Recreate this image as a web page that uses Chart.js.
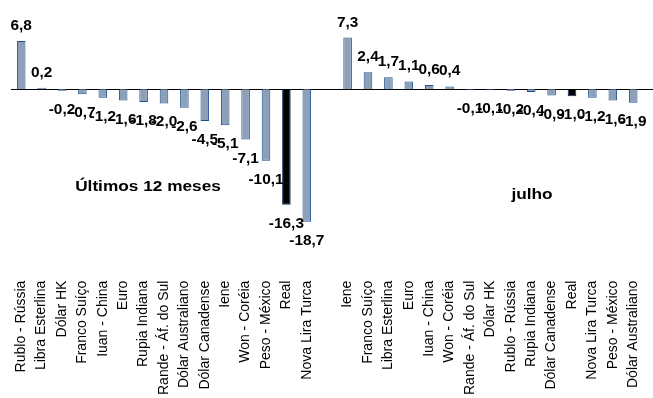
<!DOCTYPE html>
<html>
<head>
<meta charset="utf-8">
<script src="https://cdn.jsdelivr.net/npm/chart.js@4.4.0/dist/chart.umd.min.js"></script>
<style>
  html, body { margin: 0; padding: 0; background: #fff; overflow: hidden; }
  #wrap { width: 653px; height: 398px; position: relative; }
</style>
</head>
<body>
<div id="wrap"><canvas id="grafico"></canvas></div>
<script>
// Variação das moedas frente ao dólar (%)
var moedas12m = ['Rublo - Rússia', 'Libra Esterlina', 'Dólar HK', 'Franco Suíço', 'Iuan - China', 'Euro',
  'Rupia Indiana', 'Rande - Áf. do Sul', 'Dólar Australiano', 'Dólar Canadense', 'Iene', 'Won - Coréia',
  'Peso - México', 'Real', 'Nova Lira Turca'];
var valores12m = [6.8, 0.2, -0.2, -0.7, -1.2, -1.6, -1.8, -2.0, -2.6, -4.5, -5.1, -7.1, -10.1, -16.3, -18.7];

var moedasJulho = ['Iene', 'Franco Suíço', 'Libra Esterlina', 'Euro', 'Iuan - China', 'Won - Coréia',
  'Rande - Áf. do Sul', 'Dólar HK', 'Rublo - Rússia', 'Rupia Indiana', 'Dólar Canadense', 'Real',
  'Nova Lira Turca', 'Peso - México', 'Dólar Australiano'];
var valoresJulho = [7.3, 2.4, 1.7, 1.1, 0.6, 0.4, -0.1, -0.1, -0.2, -0.4, -0.9, -1.0, -1.2, -1.6, -1.9];

var titulo12m = 'Últimos 12 meses';
var tituloJulho = 'julho';

// junta os dois grupos com uma coluna vazia no meio
var rotulos = moedas12m.concat(['']).concat(moedasJulho);
var valores = valores12m.concat([null]).concat(valoresJulho);

var corBarra = rotulos.map(function (r) { return r === 'Real' ? '#000000' : '#8ca0b8'; });
var corBorda = rotulos.map(function (r) { return r === 'Real' ? '#0f2d5c' : '#1f4f8f'; });

function fmt(v) {
  return v.toFixed(1).replace('.', ',');
}

// linha do zero, valores e títulos
var extras = {
  id: 'extras',
  beforeDatasetsDraw: function (chart) {
    var ctx = chart.ctx, y0 = chart.scales.y.getPixelForValue(0);
    ctx.save();
    ctx.strokeStyle = '#000';
    ctx.lineWidth = 1;
    ctx.beginPath();
    ctx.moveTo(chart.chartArea.left, Math.round(y0) + 0.5);
    ctx.lineTo(chart.width, Math.round(y0) + 0.5);
    ctx.stroke();
    ctx.restore();
  },
  afterDatasetsDraw: function (chart) {
    var ctx = chart.ctx;
    var meta = chart.getDatasetMeta(0);
    ctx.save();
    ctx.fillStyle = '#000';
    ctx.font = 'bold 14px "Liberation Sans", Arial, sans-serif';
    ctx.textAlign = 'center';
    ctx.textBaseline = 'alphabetic';
    meta.data.forEach(function (bar, i) {
      var v = valores[i];
      if (v === null) return;
      var y = v >= 0 ? bar.y - 11 : bar.y + 23;
      ctx.save();
      ctx.translate(bar.x, y);
      ctx.scale(1.1, 1);
      ctx.fillText(fmt(v), 0, 0);
      ctx.restore();
    });
    ctx.font = 'bold 15px "Liberation Sans", Arial, sans-serif';
    ctx.textBaseline = 'middle';
    ctx.save();
    ctx.translate(148, 187);
    ctx.scale(1.15, 1);
    ctx.fillText(titulo12m, 0, 0);
    ctx.restore();
    ctx.save();
    ctx.translate(532, 195);
    ctx.scale(1.15, 1);
    ctx.fillText(tituloJulho, 0, 0);
    ctx.restore();
    ctx.restore();
  }
};

var grafico = new Chart(document.getElementById('grafico').getContext('2d'), {
  type: 'bar',
  data: {
    labels: rotulos,
    datasets: [{
      data: valores,
      backgroundColor: corBarra,
      borderColor: corBorda,
      borderWidth: 1,
      barPercentage: 0.42,
      categoryPercentage: 1.0
    }]
  },
  options: {
    responsive: true,
    maintainAspectRatio: false,
    animation: false,
    layout: { padding: { left: 11, right: 0, top: 0, bottom: 0 } },
    scales: {
      x: {
        grid: { display: false, drawTicks: false },
        border: { display: false },
        ticks: {
          autoSkip: false,
          maxRotation: 90,
          minRotation: 90,
          padding: 3,
          color: '#000',
          font: { family: '"Liberation Sans", Arial, sans-serif', size: 14 }
        }
      },
      y: {
        display: false,
        min: -26.6,
        max: 12.6
      }
    },
    plugins: {
      legend: { display: false },
      tooltip: { enabled: false }
    }
  },
  plugins: [extras]
});
</script>
</body>
</html>
